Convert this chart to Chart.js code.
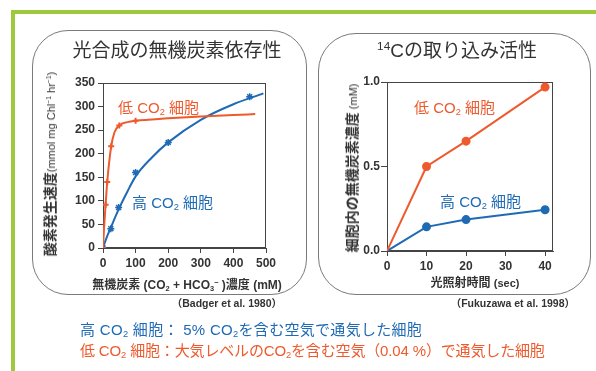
<!DOCTYPE html>
<html>
<head>
<meta charset="utf-8">
<script src="https://cdn.jsdelivr.net/npm/chart.js"></script>
<style>
body { margin: 0; width: 596px; height: 371px; background: #fff; position: relative; overflow: hidden;
       font-family: "Liberation Sans", "Noto Sans CJK JP", sans-serif; color: #333; }
.abs { position: absolute; white-space: nowrap; line-height: 1; }
.c { transform: translate(-50%, -50%); }
.l { transform: translateY(-50%); }
.r { transform: translate(-100%, -50%); }
.rot { transform: translate(-50%, -50%) rotate(-90deg); }
sub { font-size: 0.62em; vertical-align: -0.3em; line-height: 0; }
sup { font-size: 0.62em; vertical-align: 0.55em; line-height: 0; }
.panel { position: absolute; border: 1px solid #7a7a7a; }
.red { color: #ee5a2d; }
.blue { color: #1e6ab4; }
canvas { position: absolute; top: 0; }
</style>
</head>
<body>
<div class="abs" style="left:11px;top:10px;width:585px;height:4px;background:#9dca3c"></div>
<div class="abs" style="left:11px;top:10px;width:4px;height:361px;background:#9dca3c"></div>

<div class="panel" style="left:32px;top:30px;width:273px;height:263px;border-radius:36px"></div>
<div class="panel" style="left:318px;top:33px;width:271px;height:260px;border-radius:38px"></div>

<canvas id="left" width="300" height="300" style="left:0"></canvas>
<canvas id="right" width="296" height="300" style="left:300px"></canvas>

<div class="abs c" style="left:177px;top:50px;font-size:19px">光合成の無機炭素依存性</div>
<div class="abs c" style="left:457px;top:50px;font-size:19px"><sup>14</sup>Cの取り込み活性</div>

<div class="abs rot" style="left:50px;top:164px;font-size:14px;font-weight:bold">酸素発生速度<span style="font-size:11px;font-weight:normal">(mmol mg Chl<sup>−1</sup> hr<sup>−1</sup>)</span></div>
<div class="abs rot" style="left:352px;top:168px;font-size:14px;font-weight:bold">細胞内の無機炭素濃度<span style="font-size:11px;font-weight:normal"> (mM)</span></div>
<div class="abs c" style="left:187px;top:285px;font-size:12px;font-weight:bold">無機炭素 (CO<sub>2</sub> + HCO<sub>3</sub><sup>−</sup> )濃度 (mM)</div>
<div class="abs c" style="left:475px;top:283px;font-size:12px;font-weight:bold">光照射時間 <span style="font-size:11px">(sec)</span></div>

<div class="abs r" style="left:282px;top:303px;font-size:10.5px;font-weight:bold">（Badger et al. 1980）</div>
<div class="abs r" style="left:575px;top:303px;font-size:10.5px;font-weight:bold">（Fukuzawa et al. 1998）</div>

<div class="abs l red" style="left:118px;top:107px;font-size:15px">低 CO<sub>2</sub> 細胞</div>
<div class="abs l blue" style="left:132px;top:202px;font-size:15px">高 CO<sub>2</sub> 細胞</div>
<div class="abs l red" style="left:414px;top:107px;font-size:15px">低 CO<sub>2</sub> 細胞</div>
<div class="abs l blue" style="left:440px;top:201px;font-size:15px">高 CO<sub>2</sub> 細胞</div>

<div class="abs l blue" style="left:80px;top:329px;font-size:15px;letter-spacing:0.3px">高 CO<sub>2</sub> 細胞： 5% CO<sub>2</sub>を含む空気で通気した細胞</div>
<div class="abs l red" style="left:80px;top:350px;font-size:15px;letter-spacing:-0.15px">低 CO<sub>2</sub> 細胞：大気レベルのCO<sub>2</sub>を含む空気（0.04 %）で通気した細胞</div>

<script>
// left: O2 evolution vs inorganic carbon (mM)
const lowCurveX = [0, 3, 8, 13, 25, 35, 50, 75, 100, 200, 300, 400, 467];
const lowCurveY = [0, 40, 92, 140, 215, 245, 260, 267, 270, 275, 279, 282, 284];
const lowPtsX = [0, 8, 13, 25, 50, 100];
const lowPtsY = [0, 92, 140, 216, 260, 270];
const highCurveX = [0, 10, 25, 50, 75, 100, 150, 200, 300, 400, 492];
const highCurveY = [0, 20, 45, 85, 120, 152, 192, 224, 272, 305, 328];
const highPtsX = [0, 24, 48, 100, 200, 450];
const highPtsY = [0, 41, 86, 160, 224, 321];
const carbonTicks = [0, 100, 200, 300, 400, 500];
const rateTicks = [0, 50, 100, 150, 200, 250, 300, 350];

// right: 14C uptake vs light time (sec)
const timeX = [0, 10, 20, 40];
const lowUptake = [0, 0.5, 0.65, 0.97];
const highUptake = [0, 0.143, 0.186, 0.244];
const timeTicks = [0, 10, 20, 30, 40];
const uptakeTicks = [0, 0.5, 1.0];

const RED = '#ee5a2d';
const BLUE = '#1e6ab4';
const AXIS = '#444';

function pts(xs, ys) {
    return xs.map((x, i) => ({ x: x, y: ys[i] }));
}

const frame = {
    id: 'frame',
    beforeDatasetsDraw(chart) {
        const a = chart.chartArea;
        const ctx = chart.ctx;
        ctx.save();
        ctx.strokeStyle = AXIS;
        ctx.lineWidth = 1;
        ctx.strokeRect(Math.round(a.left) + 0.5, Math.round(a.top) + 0.5,
            Math.round(a.width) - 1, Math.round(a.height) - 1);
        ctx.restore();
    }
};

function axis(min, max, step, ticks, fit, extra) {
    return Object.assign({
        type: 'linear', min: min, max: max,
        ticks: { stepSize: step, color: '#333', font: { family: 'Liberation Sans', size: 12, weight: 'bold' } },
        grid: { drawOnChartArea: false, tickLength: 5, color: AXIS },
        border: { color: AXIS },
        afterBuildTicks: s => { s.ticks = ticks.map(v => ({ value: v })); },
        afterFit: fit
    }, extra || {});
}

new Chart(document.getElementById('left'), {
    type: 'scatter',
    data: {
        datasets: [
            { data: pts(lowCurveX, lowCurveY), showLine: true, borderColor: RED, borderWidth: 2,
              pointRadius: 0, cubicInterpolationMode: 'monotone' },
            { data: pts(lowPtsX, lowPtsY), pointStyle: 'cross', pointRadius: 3, borderColor: RED,
              backgroundColor: RED, borderWidth: 2 },
            { data: pts(highCurveX, highCurveY), showLine: true, borderColor: BLUE, borderWidth: 2,
              pointRadius: 0, cubicInterpolationMode: 'monotone' },
            { data: pts(highPtsX, highPtsY), pointStyle: 'star', pointRadius: 3.5, borderColor: BLUE,
              backgroundColor: BLUE, borderWidth: 1.5 }
        ]
    },
    options: {
        responsive: false,
        animation: false,
        layout: { padding: { left: 40, right: 34, top: 83, bottom: 32 } },
        plugins: { legend: { display: false }, tooltip: { enabled: false } },
        scales: {
            x: axis(0, 500, 100, carbonTicks, s => { s.height = 20; }),
            y: axis(0, 350, 50, rateTicks, s => { s.width = 63; })
        }
    },
    plugins: [frame]
});
</script>
<script>
const rightX = axis(0, 42, 10, timeTicks, s => { s.height = 20; });
const rightY = axis(0, 1, 0.5, uptakeTicks, s => { s.width = 47; });
rightY.ticks.callback = v => v.toFixed(1);
rightY.ticks.padding = 1;
rightY.grid.tickLength = 6;

new Chart(document.getElementById('right'), {
    type: 'scatter',
    data: {
        datasets: [
            { data: pts(timeX, lowUptake), showLine: true, borderColor: RED, backgroundColor: RED,
              borderWidth: 2, pointRadius: [0, 3.5, 3.5, 3.5] },
            { data: pts(timeX, highUptake), showLine: true, borderColor: BLUE, backgroundColor: BLUE,
              borderWidth: 2, pointRadius: [0, 3.5, 3.5, 3.5] }
        ]
    },
    options: {
        responsive: false,
        animation: false,
        layout: { padding: { left: 40, right: 43, top: 82, bottom: 29 } },
        plugins: { legend: { display: false }, tooltip: { enabled: false } },
        scales: { x: rightX, y: rightY }
    },
    plugins: [frame]
});
</script>
</body>
</html>
